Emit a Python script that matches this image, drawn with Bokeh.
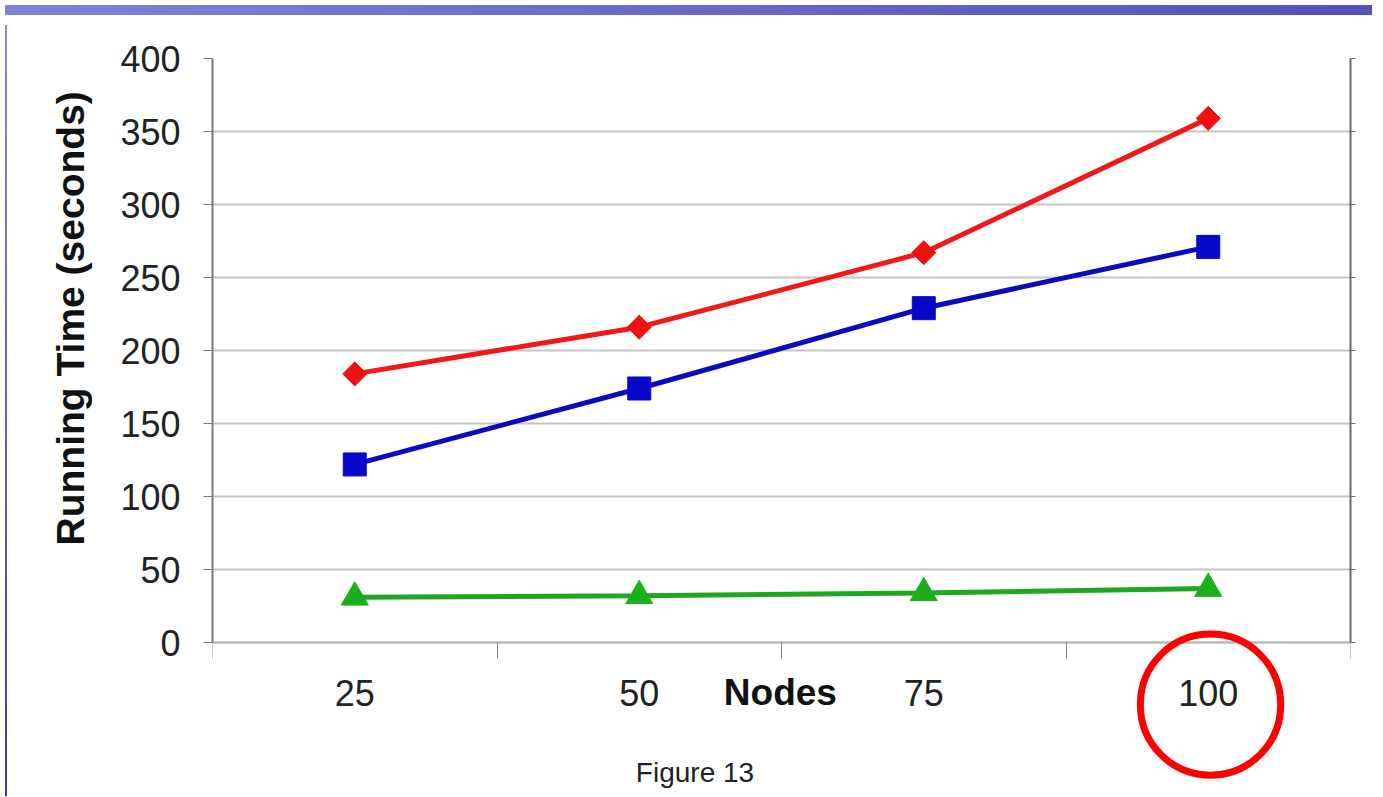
import numpy as np
from bokeh.plotting import figure
from bokeh.models import (LinearAxis, FixedTicker, Label, Div, Range1d, Title)
from bokeh.layouts import row, column
from bokeh.embed import file_html
from bokeh.resources import INLINE

nodes = [25, 50, 75, 100]
red_series = [184, 216, 267, 359]
blue_series = [122, 174, 229, 271]
green_series = [31, 32, 34, 37]
y_ticks = [0, 50, 100, 150, 200, 250, 300, 350, 400]
x_between = [12.5, 37.5, 62.5, 87.5, 112.5]

FONT = "Liberation Sans"

p = figure(width=1365, height=771, output_backend="svg", toolbar_location=None,
           x_range=Range1d(12.5, 112.5), y_range=Range1d(-102, 400),
           x_axis_location=None, y_axis_location=None,
           min_border_left=200, min_border_right=27, min_border_top=38, min_border_bottom=0)
p.background_fill_color = "white"
p.border_fill_color = "white"
p.outline_line_color = None

# left axis
ya = LinearAxis(ticker=FixedTicker(ticks=y_ticks), bounds=(0, 400))
ya.axis_line_color = "#7a7a7a"
ya.axis_line_width = 2
ya.major_tick_line_color = "#7a7a7a"
ya.major_tick_out = 9
ya.major_tick_in = 0
ya.minor_tick_line_color = None
ya.major_label_standoff = 23
ya.major_label_text_font = FONT
ya.major_label_text_font_size = "36px"
ya.major_label_text_color = "#222222"
p.add_layout(ya, "left")

# right border with small ticks
ra = LinearAxis(ticker=FixedTicker(ticks=[], minor_ticks=y_ticks), bounds=(0, 400))
ra.axis_line_color = "#6a6a6a"
ra.axis_line_width = 2
ra.major_tick_line_color = None
ra.minor_tick_line_color = "#6a6a6a"
ra.minor_tick_out = 5
ra.minor_tick_in = 0
p.add_layout(ra, "right")

# bottom axis fixed at y = 0
xa = LinearAxis(ticker=FixedTicker(ticks=nodes, minor_ticks=x_between), fixed_location=0)
xa.axis_line_color = "#b8b8b8"
xa.axis_line_width = 2
xa.major_tick_line_color = None
xa.major_tick_out = 0
xa.major_tick_in = 0
xa.minor_tick_line_color = "#8a8a8a"
xa.minor_tick_out = 16
xa.minor_tick_in = 0
xa.major_label_standoff = 21
xa.major_label_text_font = FONT
xa.major_label_text_font_size = "36px"
xa.major_label_text_color = "#222222"
p.add_layout(xa, "below")

p.xgrid.visible = False
p.ygrid.ticker = FixedTicker(ticks=y_ticks)
p.ygrid.grid_line_color = "#c4c4c4"
p.ygrid.grid_line_width = 2

# series
p.line(nodes, red_series, line_color="#f01818", line_width=5)
p.scatter(nodes, red_series, marker="square", size=17, angle=np.pi / 4,
          fill_color="#f01010", line_color="#f01010")

p.line(nodes, blue_series, line_color="#0a0ac0", line_width=5)
p.scatter(nodes, blue_series, marker="square", size=23,
          fill_color="#0808c8", line_color="#0808c8")

p.line(nodes, green_series, line_color="#1fa81f", line_width=5)
p.scatter(nodes, green_series, marker="triangle", size=27,
          fill_color="#1cae1c", line_color="#1cae1c")

# y axis title
p.add_layout(Title(text="Running Time (seconds)", align="left", offset=246, standoff=52,
                   text_font=FONT, text_font_style="bold", text_font_size="39px",
                   text_color="#111111"), "left")

# texts below the axis
p.add_layout(Label(x=62.4, y=-34.2, text="Nodes",
                   text_align="center", text_baseline="middle",
                   text_font=FONT, text_font_style="bold", text_font_size="37px",
                   text_color="#111111"))
p.add_layout(Label(x=54.9, y=-89, text="Figure 13",
                   text_align="center", text_baseline="middle",
                   text_font=FONT, text_font_size="28px", text_color="#222222"))

# red highlight circle around "100"
p.add_layout(Label(x=100.2, y=-42.5, text=" ",
                   text_align="center", text_baseline="middle",
                   text_font_size="1px", padding=70, border_radius=71,
                   border_line_color="#ff0000", border_line_width=7,
                   background_fill_color=None))

top_band = Div(width=1367, height=10,
               styles={"background": "linear-gradient(90deg, #8282d4, #6a68c8 50%, #5450bc)"})
left_band = Div(width=2, height=771,
                styles={"background": "linear-gradient(180deg, #8a8ad6, #3c3aa8)"})

layout = column(top_band, row(left_band, p))

open("out.html", "w").write(file_html(layout, INLINE))
